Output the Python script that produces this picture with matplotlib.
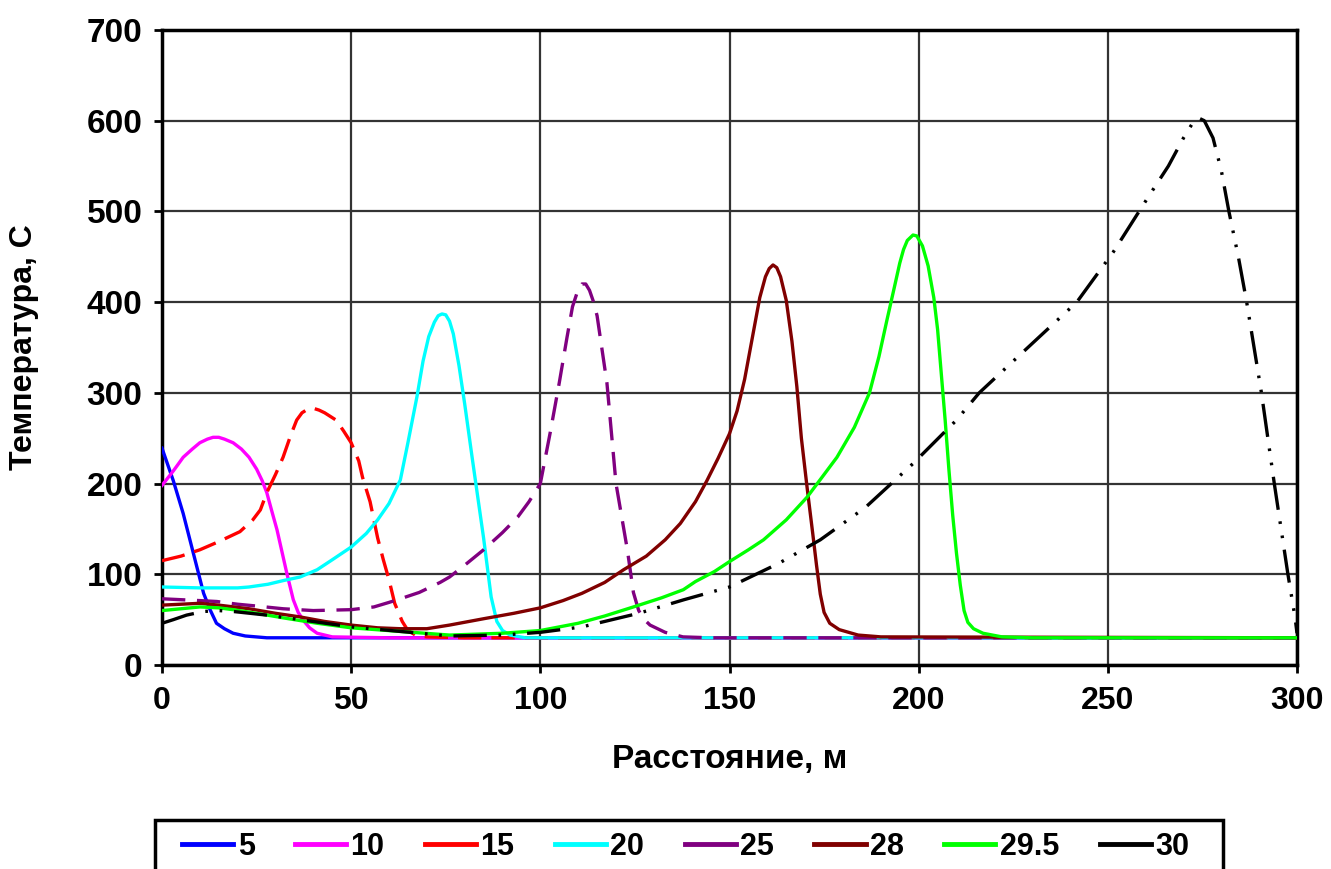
import matplotlib
matplotlib.use("Agg")
import matplotlib.pyplot as plt
from matplotlib.lines import Line2D
from matplotlib.patches import Rectangle

plt.rcParams["font.family"] = ["Liberation Sans", "DejaVu Sans"]
plt.rcParams["font.weight"] = "bold"

# ---- data ----
labels = ["5", "10", "15", "20", "25", "28", "29.5", "30"]
colors = ["#0000ff", "#ff00ff", "#ff0000", "#00ffff", "#800080", "#800000", "#00ff00", "#000000"]

x5 = [0, 3, 5.6, 8.3, 11, 12.7, 14.4, 16.5, 18.8, 22, 27.7, 33, 40, 60, 100, 300]
y5 = [239, 203, 167, 123, 79, 61, 46, 40, 35, 32, 30, 30, 30, 30, 30, 30]

x10 = [0, 3, 5.6, 8, 10, 12, 13.5, 15, 16.5, 18.8, 21, 23, 25, 26.5, 27.7, 29, 30.4, 33, 34.7,
       36, 37.4, 39, 41, 45, 60, 300]
y10 = [198, 214, 229, 238, 245, 249, 251, 251, 249, 245, 238, 229, 216, 203, 190, 170, 149, 101, 72,
       58, 49, 41, 35, 31, 30, 30]

x15 = [0, 5, 10, 15, 20.6, 24, 26, 27.7, 30, 32, 34, 35.6, 37, 38.5, 40, 41.5, 43, 46, 48, 50,
       52, 53, 55, 57, 58.5, 60, 61.5, 63.5, 65, 67, 70, 80, 300]
y15 = [115, 120, 127, 136, 147, 160, 171, 190, 210, 229, 253, 270, 278, 282, 283, 281, 278, 270, 258, 245,
       225, 207, 180, 140, 116, 94, 68, 48, 38, 33, 31, 30, 30]

x20 = [0, 10, 20, 23, 28, 32, 36.5, 41, 45, 50, 54, 57, 60, 63, 65, 67.4, 69, 70.5, 72, 73,
       74, 75, 76, 77, 78.5, 80, 82, 85, 87, 88.5, 90, 92, 96, 300]
y20 = [86, 85, 85, 86, 89, 93, 97, 105, 116, 130, 145, 160, 178, 204, 245, 296, 335, 362, 378, 385,
       387, 386, 379, 365, 330, 288, 228, 140, 75, 48, 38, 33, 30, 30]

x25 = [0, 5, 10, 14.5, 20, 25, 32, 40, 50, 56, 60, 63, 68, 73.5, 76, 80, 85, 90, 94, 97, 100,
       102.6, 105, 107, 108.5, 110, 111, 112, 113, 114, 115, 117.6, 120, 123, 124.6, 126, 127.5,
       129, 133, 137.7, 145, 300]
y25 = [73, 72, 71, 70, 67, 65, 62, 60, 61, 64, 69, 73, 80, 91, 97, 110, 127, 146, 163, 180, 200,
       256, 311, 360, 395, 414, 420, 420, 413, 401, 385, 311, 200, 127, 80, 60, 50,
       44, 36, 31, 30, 30]

x28 = [0, 5, 10, 15, 23, 30, 36.5, 43, 50, 57, 63, 70, 76, 85, 93, 100, 106, 111, 117, 122, 128,
       133, 137, 141, 144, 147, 150, 152, 154, 156, 158, 159.5, 160.5, 161.5, 162.5, 163.5, 165,
       166.5, 167.8, 169, 170.5, 172, 173, 174, 175, 176.5, 179, 184, 190, 300]
y28 = [66, 67, 68, 66, 62, 57, 53, 48, 44, 41, 40, 40, 44, 51, 57, 63, 71, 79, 91, 105, 120,
       138, 156, 180, 203, 228, 255, 280, 315, 360, 405, 428, 437, 441, 438, 428, 402,
       357, 307, 250, 196, 145, 110, 78, 58, 46, 39, 33, 31, 30]

x295 = [0, 5, 10, 15, 18.8, 25, 32, 41, 50, 63, 76, 90, 100, 110, 117, 124.6, 132, 137.8, 141,
        146, 150, 155, 159, 165, 170.5, 175, 178.4, 183, 187, 189.5, 191.6, 193.5, 195, 196,
        197, 198.5, 199.5, 201, 202.5, 204, 205, 206, 207, 208, 209, 210, 211, 212, 213,
        214.5, 217, 222, 230, 300]
y295 = [60, 62, 64, 63, 61, 57, 52, 46, 41, 37, 33, 35, 38, 46, 54, 64, 74, 83, 92,
        103, 114, 127, 138, 160, 185, 210, 229, 262, 300, 340, 380, 415, 443, 458,
        468, 474, 473, 462, 440, 405, 370, 320, 270, 215, 165, 123, 88, 60, 47,
        40, 35, 31, 30, 30]

x30 = [0, 3, 6.5, 11, 15, 18.8, 27.7, 36.5, 50, 63, 76, 90, 100, 111, 126, 138, 150, 163, 174,
       186, 198.5, 210, 216, 225, 233, 241.8, 251.4, 261, 266, 270, 272.5, 274, 275.5, 277.8,
       280, 282, 284.5, 286.7, 290.6, 294, 297.6, 299.5, 300]
y30 = [46, 50, 55, 59, 60, 59, 55, 50, 42, 37, 32, 33, 36, 42, 57, 72, 86, 112, 138,
       174, 222, 270, 300, 335, 366, 400, 455, 518, 550, 581, 598, 603, 600, 581,
       545, 500, 450, 400, 300, 200, 100, 52, 35]

xs = [x5, x10, x15, x20, x25, x28, x295, x30]
ys = [y5, y10, y15, y20, y25, y28, y295, y30]
styles = [None, None, (7, 3), None, (7, 3.5), None, None, (10, 3.5, 0.8, 3.5, 0.8, 3.5)]

fig = plt.figure(figsize=(13.31, 8.69), dpi=100)
ax = fig.add_axes([162 / 1331, 1 - 665 / 869, (1297 - 162) / 1331, (665 - 30) / 869])

for x, y, c, d, lab in zip(xs, ys, colors, styles, labels):
    line, = ax.plot(x, y, color=c, lw=2.4, label=lab, zorder=3,
                    solid_joinstyle="round", dash_joinstyle="round")
    if d is not None:
        line.set_dashes(d)

ax.set_xlim(0, 300)
ax.set_ylim(0, 700)
ax.set_xticks(range(0, 301, 50))
ax.set_yticks(range(0, 701, 100))
ax.grid(True, color="#333333", lw=1.6, zorder=1)
for s in ax.spines.values():
    s.set_linewidth(2.5)
    s.set_color("black")
ax.tick_params(axis="both", direction="out", length=6, width=2, color="black")
ax.tick_params(axis="x", pad=9, labelsize=23)
ax.tick_params(axis="y", pad=8, labelsize=24)

ax.set_xlabel("Расстояние, м", fontweight="bold", fontsize=24, labelpad=20)
ax.set_ylabel("Температура, С", fontweight="bold", fontsize=23, labelpad=34)

# legend box: top and sides visible, bottom runs off the picture
fig.add_artist(Rectangle((155 / 1331, -0.05), (1223 - 155) / 1331, 0.05 + 1 - 820 / 869,
                         transform=fig.transFigure, fill=False, edgecolor="black", lw=2.5))

handles = [Line2D([], [], color=c, lw=3.5) for c in colors]
leg = fig.legend(handles, labels, loc="upper left", ncol=8,
                 bbox_to_anchor=(182 / 1331, 1 - 832 / 869), bbox_transform=fig.transFigure,
                 borderaxespad=0, frameon=False, borderpad=0,
                 handlelength=1.67, handletextpad=0.15, columnspacing=1.32,
                 prop={"weight": "bold", "size": 22})

fig.savefig("out.png", dpi=100)
